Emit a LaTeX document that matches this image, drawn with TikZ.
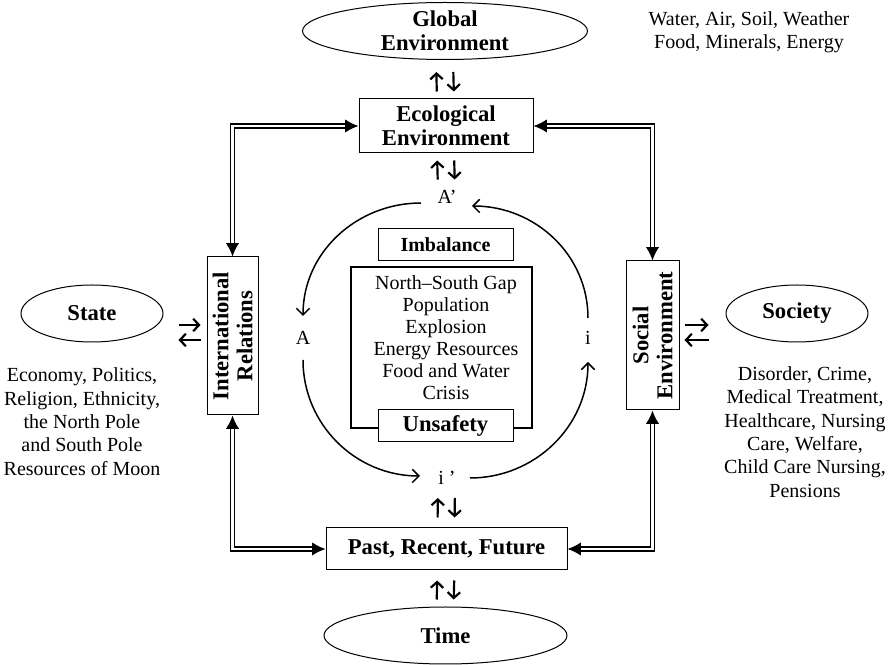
\documentclass[tikz,border=0pt]{standalone}
\usepackage{fontspec}
\setmainfont{Liberation Serif}
\usetikzlibrary{arrows.meta,shapes.geometric,calc}

\tikzset{
    title/.style={font=\fontsize{13.6}{14.4}\selectfont\bfseries, align=center},
    plain/.style={font=\fontsize{12}{14}\selectfont, align=center},
    tag/.style={font=\fontsize{12}{14}\selectfont, inner sep=0pt},
    box/.style={draw, line width=0.6pt, fill=white, title, inner sep=0pt},
    oval/.style={draw, ellipse, line width=0.6pt, title, inner sep=0pt},
    dbl/.style={double, double distance=1.3pt, line width=0.9pt,
        {Latex[length=8pt,width=8pt]}-{Latex[length=8pt,width=8pt]}},
    pair/.style={line width=1.3pt, -{Straight Barb[length=3.5pt,width=7.5pt]}},
    turn/.style={line width=0.9pt, -{Straight Barb[length=4pt,width=8pt]}},
}

\begin{document}
\begin{tikzpicture}[x=0.6pt, y=0.6pt]
    \useasboundingbox (0,0) rectangle (892,-665);

    % outer ring
    \node[oval, minimum width=171pt, minimum height=34.2pt, inner ysep=-2pt] (glob) at (445,-31) {Global\\Environment};
    \node[plain] (water) at (749,-32) {Water, Air, Soil, Weather\\Food, Minerals, Energy};
    \node[oval, minimum width=85.2pt, minimum height=34.2pt] (state) at (92,-313.5) {State};
    \node[plain] (statetxt) at (82,-421.5) {Economy, Politics,\\Religion, Ethnicity,\\the North Pole\\and South Pole\\Resources of Moon};
    \node[oval, minimum width=85.2pt, minimum height=34.2pt] (society) at (797,-313.5) {Society};
    \node[plain] (societytxt) at (805,-432) {Disorder, Crime,\\Medical Treatment,\\Healthcare, Nursing\\Care, Welfare,\\Child Care Nursing,\\Pensions};
    \node[oval, minimum width=145.8pt, minimum height=34.2pt] (time) at (445.5,-635.5) {Time};

    % inner frame
    \node[box, minimum width=104.4pt, minimum height=32.4pt] (eco) at (446,-126) {Ecological\\Environment};
    \node[box, minimum width=144.6pt, minimum height=25.2pt] (past) at (446.5,-549) {Past, Recent, Future};
    \node[box, rotate=90, minimum width=94.8pt, minimum height=30.6pt] (ir) at (232.5,-336) {International\\Relations};
    \node[box, rotate=90, minimum width=89.4pt, minimum height=31.8pt] (soc) at (652.5,-335.5) {Social\\Environment};

    % centre
    \node[draw, line width=1.3pt, minimum width=108.6pt, minimum height=96.6pt] (crisis) at (441.5,-347.5) {};
    \node[font=\fontsize{12}{13.2}\selectfont, align=center] (crisistxt) at (446,-338) {North–South Gap\\Population\\Explosion\\Energy Resources\\Food and Water\\Crisis};
    \node[box, font=\fontsize{12}{14}\selectfont\bfseries, minimum width=81pt, minimum height=19.2pt] (imb) at (445.5,-245) {Imbalance};
    \node[box, minimum width=81pt, minimum height=19.2pt] (uns) at (445.5,-426) {Unsafety};

    \node[tag] (Ap) at (447,-197) {A’};
    \node[tag] (A) at (303,-338) {A};
    \node[tag] (i) at (588,-338) {i};
    \node[tag] (ip) at (447,-478) {i ’};

    % double links
    \draw[dbl] (eco) -| (ir);
    \draw[dbl] (eco) -| (soc);
    \draw[dbl] (past) -| (ir);
    \draw[dbl] (past) -| (soc);

    % up/down pairs
    \draw[pair, shorten <=4.2pt, shorten >=7.2pt] ([xshift=-5.4pt]eco.north) -- ([xshift=-5.4pt]glob.south);
    \draw[pair, shorten <=7.2pt, shorten >=4.2pt] ([xshift=4.8pt]glob.south) -- ([xshift=4.8pt]eco.north);
    \draw[pair, shorten <=6.3pt, shorten >=4.2pt] ([xshift=-5.4pt]Ap.north) -- ([xshift=-5.4pt]eco.south);
    \draw[pair, shorten <=4.2pt, shorten >=6.3pt] ([xshift=4.8pt]eco.south) -- ([xshift=4.8pt]Ap.north);
    \draw[pair, shorten <=6pt, shorten >=7.8pt] ([xshift=-5.4pt]past.north) -- ([xshift=-5.4pt]ip.south);
    \draw[pair, shorten <=7.8pt, shorten >=6pt] ([xshift=4.8pt]ip.south) -- ([xshift=4.8pt]past.north);
    \draw[pair, shorten <=4.2pt, shorten >=6pt] ([xshift=-5.4pt]time.north) -- ([xshift=-5.4pt]past.south);
    \draw[pair, shorten <=6pt, shorten >=4.2pt] ([xshift=4.8pt]past.south) -- ([xshift=4.8pt]time.north);

    % side pairs
    \draw[pair] ($(state.east)+(15,-11.5)$) -- ($(state.east)+(37,-11.5)$);
    \draw[pair] ($(state.east)+(37,-26.5)$) -- ($(state.east)+(15,-26.5)$);
    \draw[pair] ($(society.west)+(-41,-11.5)$) -- ($(society.west)+(-17,-11.5)$);
    \draw[pair] ($(society.west)+(-17,-26.5)$) -- ($(society.west)+(-41,-26.5)$);

    % cycle round the centre
    \draw[turn] ($(Ap)+(-26,-6)$) to[out=180, in=90] ($(A)+(0,22)$);
    \draw[turn] ($(A)+(0,-22)$) to[out=-90, in=180] ($(ip)+(-27,2)$);
    \draw[turn] ($(ip)+(23,0)$) to[out=0, in=-90] ($(i)+(0,-24)$);
    \draw[turn] ($(i)+(0,20)$) to[out=90, in=0] ($(Ap)+(25,-9)$);
\end{tikzpicture}
\end{document}
